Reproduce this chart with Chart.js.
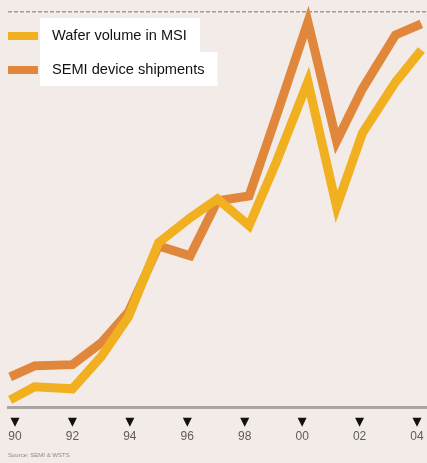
<!DOCTYPE html>
<html>
<head>
<meta charset="utf-8">
<script src="https://cdn.jsdelivr.net/npm/chart.js@4.4.1/dist/chart.umd.min.js"></script>
<style>
  html, body { margin: 0; padding: 0; background: #f2ebe7; }
  canvas { display: block; }
</style>
</head>
<body>
<canvas id="waferChart" width="427" height="463"></canvas>
<script>
// x positions of the yearly points (fractional)
const years = [1989.83, 1990.68, 1992.0, 1993.0, 1993.95, 1995.0, 1996.1, 1997.05,
               1998.15, 1999.1, 2000.2, 2001.2, 2002.1, 2003.25, 2004.15];
// indexed values, 0 = axis line, 100 = dashed top line
const waferVolume   = [2.0, 5.3, 4.8, 12.9, 23.0, 41.7, 48.0, 52.8, 46.0, 62.1, 82.4, 50.8, 69.4, 82.3, 90.4];
const semiShipments = [7.8, 10.6, 10.9, 16.4, 24.2, 40.9, 38.4, 52.3, 53.5, 73.7, 97.5, 67.4, 80.6, 94.2, 97.0];
const seriesLabels = ['Wafer volume in MSI', 'SEMI device shipments'];
const seriesColors = ['#f0b020', '#e0873c'];
const sourceNote = 'Source: SEMI & WSTS';

function toPoints(values) {
  return values.map((v, i) => ({ x: years[i], y: v }));
}

// little black triangles above each year label
const tickMarks = {
  id: 'tickMarks',
  afterDraw(chart) {
    const ctx = chart.ctx;
    const xs = chart.scales.x;
    const top = chart.chartArea.bottom + 10;
    ctx.save();
    ctx.fillStyle = '#111';
    xs.ticks.forEach(t => {
      const px = xs.getPixelForValue(t.value);
      ctx.beginPath();
      ctx.moveTo(px - 4.5, top);
      ctx.lineTo(px + 4.5, top);
      ctx.lineTo(px, top + 9);
      ctx.closePath();
      ctx.fill();
    });
    ctx.restore();
  }
};

// legend sitting inside the plot, white boxes behind the text
const boxLegend = {
  id: 'boxLegend',
  afterDraw(chart) {
    const ctx = chart.ctx;
    ctx.save();
    ctx.font = '14.6px "Liberation Sans", Arial, sans-serif';
    ctx.textBaseline = 'middle';
    chart.data.datasets.forEach((ds, i) => {
      const y = 18 + i * 34;
      const w = ctx.measureText(ds.label).width;
      ctx.fillStyle = '#ffffff';
      ctx.fillRect(40, y, w + 25, 34);
      ctx.fillStyle = ds.borderColor;
      ctx.fillRect(8, y + 14, 30, 8);
      ctx.fillStyle = '#111';
      ctx.fillText(ds.label, 52, y + 18);
    });
    ctx.restore();
  }
};

new Chart(document.getElementById('waferChart'), {
  type: 'line',
  data: {
    datasets: [{
      label: seriesLabels[0],
      data: toPoints(waferVolume),
      borderColor: seriesColors[0],
      backgroundColor: seriesColors[0],
      borderWidth: 9,
      borderJoinStyle: 'miter',
      pointRadius: 0,
      tension: 0,
      clip: false
    }, {
      label: seriesLabels[1],
      data: toPoints(semiShipments),
      borderColor: seriesColors[1],
      backgroundColor: seriesColors[1],
      borderWidth: 9,
      borderJoinStyle: 'miter',
      pointRadius: 0,
      tension: 0,
      clip: false
    }]
  },
  options: {
    responsive: false,
    animation: false,
    devicePixelRatio: 1,
    layout: { padding: { top: 12, left: 8, right: 0, bottom: 0 } },
    scales: {
      x: {
        type: 'linear',
        min: 1989.756,
        max: 2004.348,
        grid: { display: true, drawOnChartArea: false, drawTicks: true, tickLength: 22, tickColor: 'rgba(0,0,0,0)' },
        border: { display: true, color: '#a9a5a1', width: 3 },
        ticks: {
          stepSize: 2,
          includeBounds: false,
          padding: 0,
          color: '#5c5c5c',
          font: { family: '"Liberation Sans Narrow", "Arial Narrow", sans-serif', size: 12 },
          maxRotation: 0,
          autoSkip: false,
          callback: v => String(v).slice(2)
        },
        afterFit(scale) { scale.height = 44; }
      },
      y: {
        min: 0,
        max: 100,
        ticks: { display: false },
        grid: { color: '#9c9c9c', lineWidth: 1.5, drawTicks: false },
        border: { display: false, dash: [4, 2] },
        afterBuildTicks(scale) { scale.ticks = [{ value: 100 }]; },
        afterFit(scale) { scale.width = 0; }
      }
    },
    plugins: {
      legend: { display: false },
      tooltip: { enabled: false },
      subtitle: {
        display: true,
        text: sourceNote,
        position: 'bottom',
        align: 'start',
        color: '#8a8a8a',
        font: { size: 6 },
        padding: { top: 0, bottom: 4 }
      }
    }
  },
  plugins: [tickMarks, boxLegend]
});
</script>
</body>
</html>
